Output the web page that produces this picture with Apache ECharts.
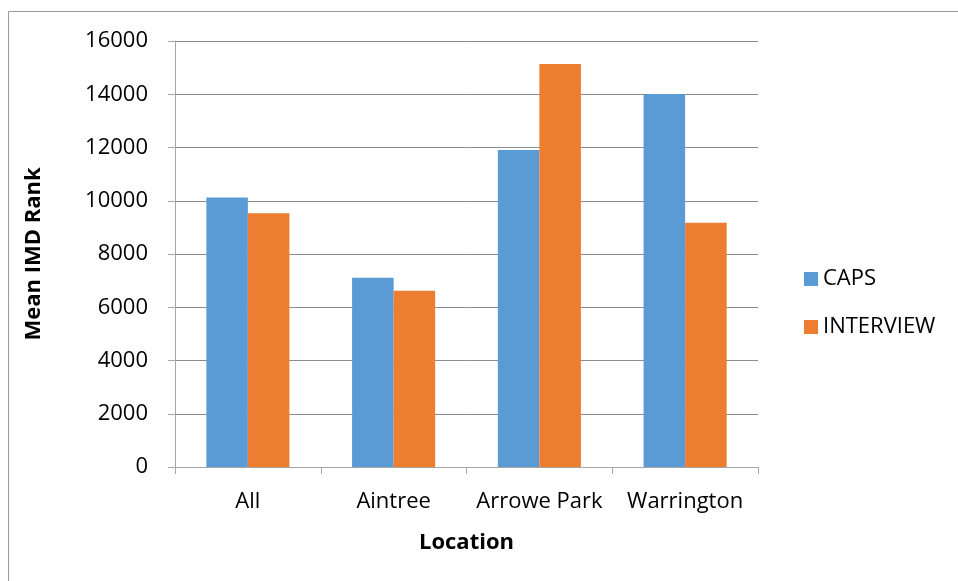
<!DOCTYPE html>
<html>
<head>
<meta charset="utf-8">
<title>Mean IMD Rank by Location</title>
<script src="https://cdn.jsdelivr.net/npm/echarts@6/dist/echarts.min.js"></script>
<style>
  html, body { margin: 0; padding: 0; background: #ffffff; }
  #chart { width: 958px; height: 581px; }
</style>
</head>
<body>
<div id="chart"></div>
<script>
// Locations on the x axis
const locations = ['All', 'Aintree', 'Arrowe Park', 'Warrington'];
// Mean IMD rank per location
const capsValues = [10120, 7110, 11910, 14010];
const interviewValues = [9530, 6620, 15140, 9170];
// Value axis range and step
const yMin = 0;
const yMax = 16000;
const yStep = 2000;

const FONT = '"Open Sans", "Noto Sans", "Liberation Sans", sans-serif';
const AXIS_GREY = '#a6a6a6';

const chart = echarts.init(document.getElementById('chart'), null, { renderer: 'canvas' });

chart.setOption({
  backgroundColor: '#ffffff',
  animation: false,
  textStyle: { fontFamily: FONT, color: '#000000' },
  graphic: [
    {
      type: 'rect',
      shape: { x: 8.5, y: 11.5, width: 1200, height: 1200 },
      style: { fill: 'none', stroke: '#9a9a9a', lineWidth: 1 },
      silent: true
    }
  ],
  grid: {
    left: 175,
    top: 41,
    width: 583,
    height: 426,
    containLabel: false
  },
  legend: {
    orient: 'vertical',
    left: 799,
    top: 263,
    itemWidth: 14,
    itemHeight: 14,
    itemGap: 26,
    icon: 'rect',
    textStyle: { fontFamily: FONT, fontSize: 22, color: '#000000' },
    data: ['CAPS', 'INTERVIEW']
  },
  xAxis: {
    type: 'category',
    data: locations,
    name: 'Location',
    nameLocation: 'middle',
    nameGap: 65,
    nameTextStyle: { fontFamily: FONT, fontSize: 22, fontWeight: 'bold', color: '#000000' },
    axisLine: { lineStyle: { color: AXIS_GREY, width: 1 } },
    axisTick: { show: true, interval: 0, length: 7, lineStyle: { color: AXIS_GREY } },
    axisLabel: { fontFamily: FONT, fontSize: 22, color: '#000000', margin: 24, interval: 0, hideOverlap: false },
    splitLine: { show: false }
  },
  yAxis: {
    type: 'value',
    min: yMin,
    max: yMax,
    interval: yStep,
    name: 'Mean IMD Rank',
    nameLocation: 'middle',
    nameGap: 130,
    nameRotate: 90,
    nameTextStyle: { fontFamily: FONT, fontSize: 22, fontWeight: 'bold', color: '#000000' },
    axisLine: { show: true, lineStyle: { color: AXIS_GREY, width: 1 } },
    axisTick: { show: true, length: 7, lineStyle: { color: AXIS_GREY } },
    axisLabel: {
      fontFamily: FONT,
      fontSize: 22,
      color: '#000000',
      margin: 27,
      formatter: function (v) { return String(v); }
    },
    splitLine: { show: true, lineStyle: { color: '#8c8c8c', width: 1 } }
  },
  series: [
    {
      name: 'CAPS',
      type: 'bar',
      data: capsValues,
      barGap: '0%',
      barCategoryGap: '43%',
      itemStyle: { color: '#5b9bd5' }
    },
    {
      name: 'INTERVIEW',
      type: 'bar',
      data: interviewValues,
      barGap: '0%',
      barCategoryGap: '43%',
      itemStyle: { color: '#ed7d31' }
    }
  ]
});
</script>
</body>
</html>
